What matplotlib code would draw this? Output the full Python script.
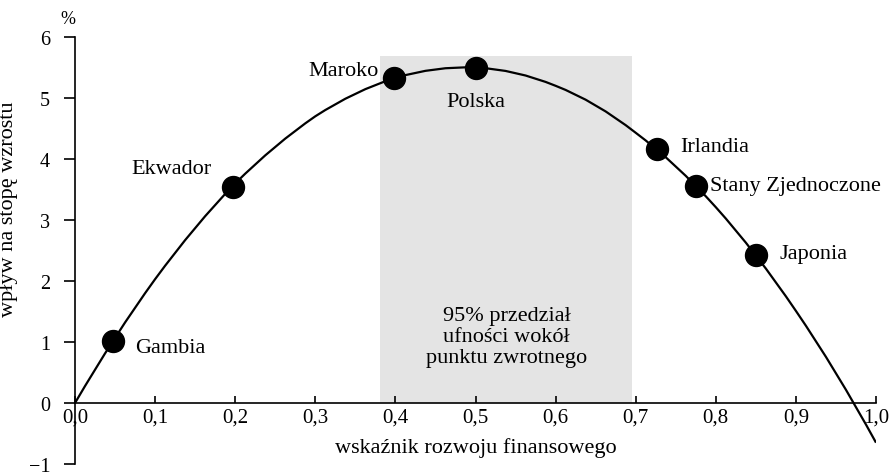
import numpy as np
import matplotlib
matplotlib.use('Agg')
import matplotlib.pyplot as plt
from matplotlib.path import Path
from matplotlib.patches import PathPatch

plt.rcParams['font.family'] = ['Liberation Serif', 'DejaVu Serif']

# krzywa (odczytana co 0,05)
curve_x = [0.00, 0.05, 0.10, 0.15, 0.20, 0.25, 0.30, 0.35, 0.40, 0.45, 0.50,
           0.55, 0.60, 0.65, 0.70, 0.75, 0.80, 0.85, 0.90, 0.95, 1.00]
curve_y = [0.00, 1.07, 2.03, 2.87, 3.60, 4.20, 4.70, 5.07, 5.33, 5.47, 5.50,
           5.41, 5.20, 4.88, 4.43, 3.88, 3.21, 2.42, 1.51, 0.49, -0.65]

countries = ['Gambia', 'Ekwador', 'Maroko', 'Polska', 'Irlandia', 'Stany Zjednoczone', 'Japonia']
country_x = [0.047, 0.197, 0.398, 0.500, 0.727, 0.775, 0.850]
country_y = [1.02, 3.54, 5.32, 5.49, 4.17, 3.55, 2.43]

band_lo, band_hi, band_top = 0.381, 0.695, 5.69

xticks = [0.0, 0.1, 0.2, 0.3, 0.4, 0.5, 0.6, 0.7, 0.8, 0.9, 1.0]
xtick_labels = ['0,0', '0,1', '0,2', '0,3', '0,4', '0,5', '0,6', '0,7', '0,8', '0,9', '1,0']
yticks = [-1, 0, 1, 2, 3, 4, 5, 6]
ytick_labels = ['\u22121', '0', '1', '2', '3', '4', '5', '6']

fig = plt.figure(figsize=(8.94, 4.77), dpi=100)
ax = fig.add_axes([75 / 894, 12 / 477, 801 / 894, 427 / 477])

ax.fill_between([band_lo, band_hi], 0, band_top, color='#e4e4e4', lw=0, zorder=0)

# gladka krzywa: odcinki Beziera drugiego stopnia przez odczytane punkty
pts = np.column_stack([curve_x, curve_y])
verts = [pts[0]]
codes = [Path.MOVETO]
for i in range(0, len(pts) - 2, 2):
    p0, p1, p2 = pts[i], pts[i + 1], pts[i + 2]
    verts += [2 * p1 - (p0 + p2) / 2, p2]
    codes += [Path.CURVE3, Path.CURVE3]
ax.add_patch(PathPatch(Path(verts, codes), fill=False, edgecolor='black', lw=1.6, zorder=2))

ax.scatter(country_x, country_y, s=250, color='black', zorder=3)

fs = 16
# etykiety krajów
ax.text(0.075, 0.91, 'Gambia', fontsize=fs, ha='left', va='center')
ax.text(0.171, 3.84, 'Ekwador', fontsize=fs, ha='right', va='center')
ax.text(0.379, 5.45, 'Maroko', fontsize=fs, ha='right', va='center')
ax.text(0.501, 4.94, 'Polska', fontsize=fs, ha='center', va='center')
ax.text(0.756, 4.21, 'Irlandia', fontsize=fs, ha='left', va='center')
ax.text(0.7925, 3.57, 'Stany Zjednoczone', fontsize=fs, ha='left', va='center')
ax.text(0.880, 2.45, 'Japonia', fontsize=fs, ha='left', va='center')

ax.text(0.539, 1.09, '95% przedział\nufności wokół\npunktu zwrotnego', fontsize=fs,
        ha='center', va='center', linespacing=1.15)

ax.set_xlim(0, 1.0)
ax.set_ylim(-1, 6)
ax.spines['top'].set_visible(False)
ax.spines['right'].set_visible(False)
ax.spines['bottom'].set_position(('data', 0))
ax.spines['left'].set_linewidth(1.2)
ax.spines['bottom'].set_linewidth(1.2)

ax.set_xticks(xticks)
ax.set_xticklabels(xtick_labels, fontsize=15)
ax.set_yticks(yticks)
ax.set_yticklabels(ytick_labels, fontsize=14.5)
ax.tick_params(axis='x', direction='in', length=5, width=1.2, pad=3)
ax.tick_params(axis='y', direction='out', length=8, width=1.2, pad=10)

ax.set_ylabel('wpływ na stopę wzrostu', fontsize=fs)
ax.yaxis.set_label_coords(-0.071, 0.60)
ax.text(0.5, -0.73, 'wskaźnik rozwoju finansowego', fontsize=fs, ha='center', va='center')
ax.text(0.0, 6.3, '%', fontsize=13, ha='right', va='center', clip_on=False)

fig.savefig('out.png', dpi=100)
